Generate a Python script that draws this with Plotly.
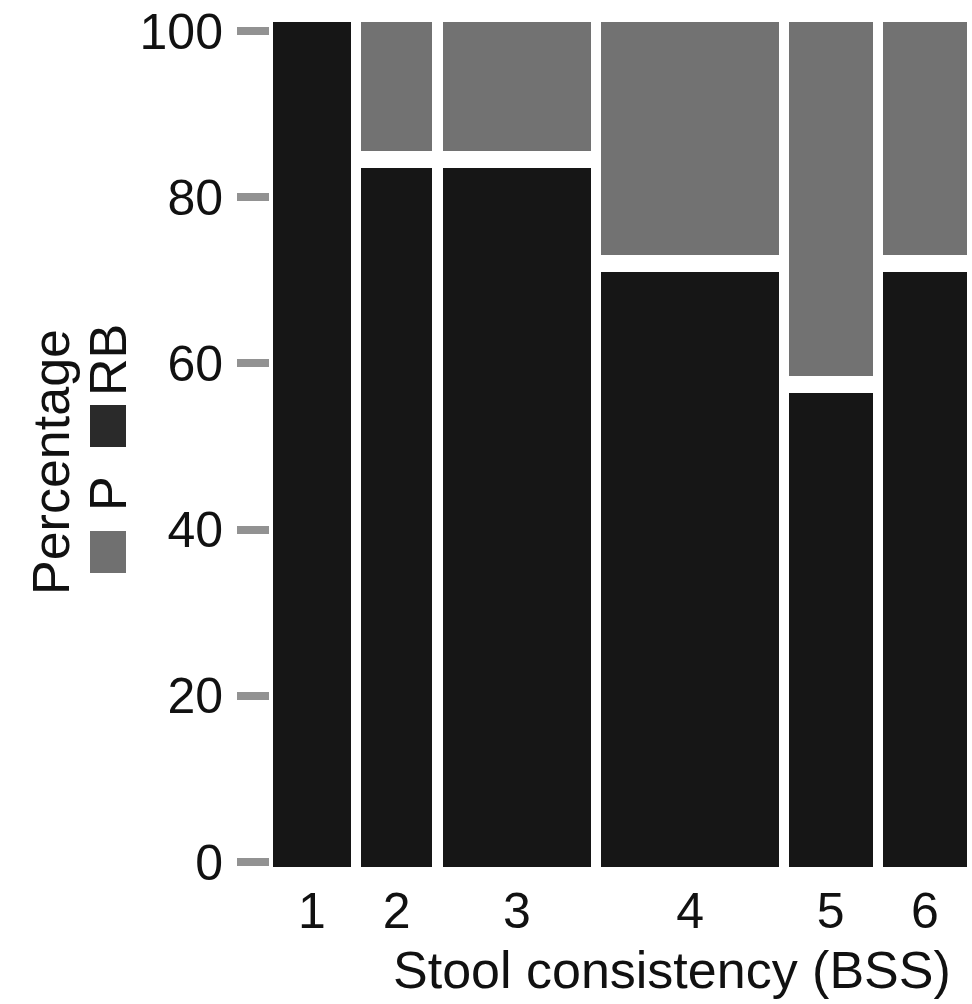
import plotly.graph_objects as go

# Stool consistency categories (Bristol Stool Scale) and their mosaic data
categories = ["1", "2", "3", "4", "5", "6"]
# relative share of samples in each category (tile widths, % of total)
share = [12.1, 11.1, 23.1, 27.6, 13.0, 13.1]
# percentage of RB and P within each category
rb_pct = [100.0, 83.5, 83.5, 71.0, 56.4, 71.0]
p_pct = [0.0, 16.5, 16.5, 29.0, 43.6, 29.0]

# styling
RB_COLOR = "#161616"
P_COLOR = "#727272"
TICK_COLOR = "#929292"
FONT = "Liberation Sans, Arial, sans-serif"
TICK_SIZE = 50
TITLE_SIZE = 52
X_GAP = 1.57        # horizontal spacing between tiles (share units)
Y_GAP = 2.05        # vertical spacing between stacked tiles (percent units)
LOW_PAD = 0.6       # tiles overhang slightly below 0
HIGH_PAD = 1.1      # and slightly above 100

# tile positions along x
centers = []
pos = 0.0
for w in share:
    centers.append(pos + w / 2)
    pos += w + X_GAP
x_end = pos - X_GAP

top = 100 + HIGH_PAD

# RB tiles: bottom of each column; a column with no P fills the full height
rb_top = [top if p == 0 else r for r, p in zip(rb_pct, p_pct)]
fig = go.Figure()
fig.add_trace(go.Bar(
    x=centers, width=share,
    base=[-LOW_PAD] * len(rb_pct),
    y=[t + LOW_PAD for t in rb_top],
    marker=dict(color=RB_COLOR, line=dict(width=0)),
    name="RB", showlegend=False, hoverinfo="skip",
))

# P tiles: stacked above RB, separated by a gap
p_base = [r + Y_GAP if p > 0 else top for r, p in zip(rb_pct, p_pct)]
p_height = [(top - b) if p > 0 else 0 for b, p in zip(p_base, p_pct)]
fig.add_trace(go.Bar(
    x=centers, width=share,
    base=p_base, y=p_height,
    marker=dict(color=P_COLOR, line=dict(width=0)),
    name="P", showlegend=False, hoverinfo="skip",
))

W, H = 972, 1004
ML, MR, MT, MB = 270, 5, 22, 137
plot_w = W - ML - MR
plot_h = H - MT - MB

fig.update_layout(
    width=W, height=H,
    margin=dict(l=ML, r=MR, t=MT, b=MB, pad=0),
    paper_bgcolor="white", plot_bgcolor="white",
    barmode="overlay", bargap=0,
    font=dict(family=FONT, size=TICK_SIZE, color="#111111"),
    xaxis=dict(
        range=[-0.47, x_end], tickmode="array",
        tickvals=centers, ticktext=categories,
        showgrid=False, zeroline=False, showline=False,
        ticks="", ticklen=0, tickfont=dict(size=TICK_SIZE),
        ticklabelstandoff=10,
    ),
    yaxis=dict(
        range=[-LOW_PAD, top], tickmode="array",
        tickvals=[0, 20, 40, 60, 80, 100],
        showgrid=False, zeroline=False, showline=False,
        ticks="outside", ticklen=32, tickwidth=8, tickcolor=TICK_COLOR,
        tickfont=dict(size=TICK_SIZE), ticklabelstandoff=4,
    ),
)

def px_to_paper_x(px):
    return (px - ML) / plot_w

def px_to_paper_y(py):
    return (H - MB - py) / plot_h

# x-axis title
fig.add_annotation(
    text="Stool consistency (BSS)", showarrow=False,
    xref="paper", yref="paper",
    x=px_to_paper_x(672), y=px_to_paper_y(970),
    xanchor="center", yanchor="middle",
    font=dict(size=TITLE_SIZE),
)

# y-axis title with the fill key, rotated
fig.add_annotation(
    text="Percentage", textangle=-90, showarrow=False,
    xref="paper", yref="paper",
    x=px_to_paper_x(51), y=px_to_paper_y(462),
    xanchor="center", yanchor="middle",
    font=dict(size=TITLE_SIZE),
)
for label, color, sq_top, text_y in [("P", "#707070", 531, 494), ("RB", "#2a2a2a", 405, 360)]:
    fig.add_shape(
        type="rect", xref="paper", yref="paper",
        x0=px_to_paper_x(90), x1=px_to_paper_x(126),
        y0=px_to_paper_y(sq_top + 42), y1=px_to_paper_y(sq_top),
        fillcolor=color, line=dict(width=0),
    )
    fig.add_annotation(
        text=label, textangle=-90, showarrow=False,
        xref="paper", yref="paper",
        x=px_to_paper_x(108), y=px_to_paper_y(text_y),
        xanchor="center", yanchor="middle",
        font=dict(size=TITLE_SIZE),
    )

fig.write_html("out.html")
